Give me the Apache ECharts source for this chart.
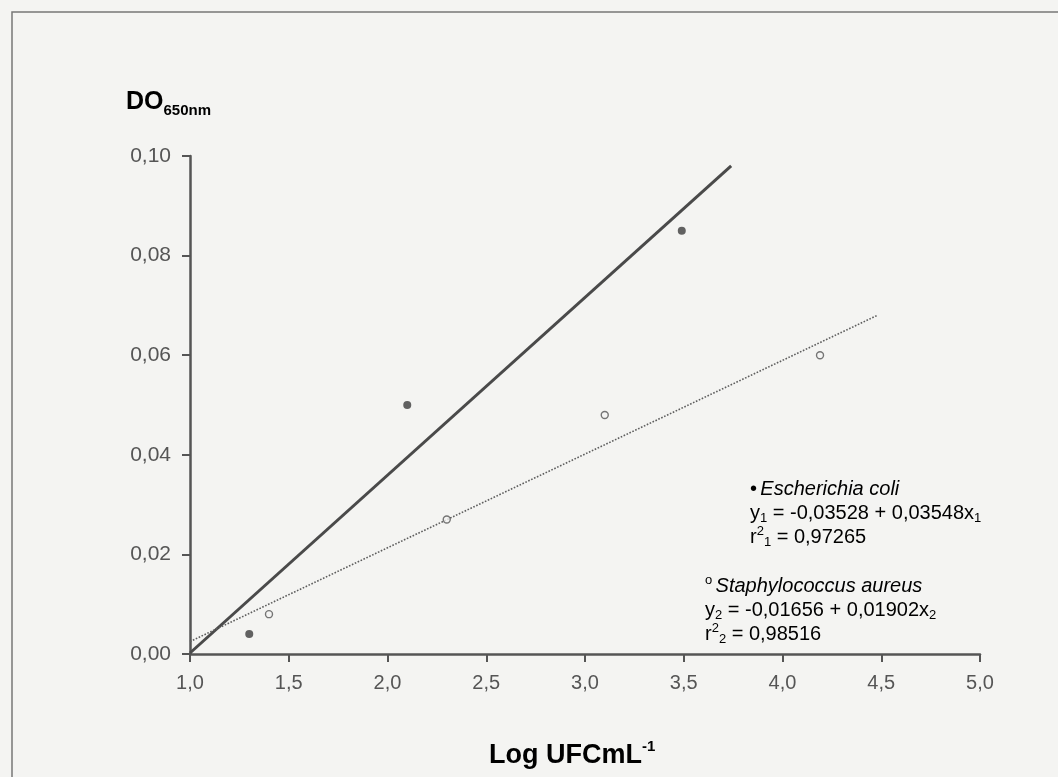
<!DOCTYPE html>
<html>
<head>
<meta charset="utf-8">
<script src="https://cdn.jsdelivr.net/npm/echarts@6/dist/echarts.min.js"></script>
<style>
  html, body { margin: 0; padding: 0; background: #f4f4f2; }
  #main { width: 1058px; height: 777px; }
</style>
</head>
<body>
<div id="main"></div>
<script>
// data
var ecoliPts = [[1.3, 0.004], [2.1, 0.050], [3.49, 0.085]];
var saureusPts = [[1.4, 0.008], [2.3, 0.027], [3.1, 0.048], [4.19, 0.060]];
// regression line end points
var ecoliFit = [[1.0, 0.0002], [3.74, 0.098]];
var saureusFit = [[1.0, 0.0025], [4.48, 0.068]];
var xTicks = [1.0, 5.0, 0.5];   // min, max, step
var yTicks = [0, 0.10, 0.02];

var txt = '#555';
var font = 'Liberation Sans, Arial, sans-serif';
var myChart = echarts.init(document.getElementById('main'));

// rich text styles for sub/superscripts
var rich = {
  t:   { fontSize: 20, fontFamily: font, color: txt, lineHeight: 24 },
  it:  { fontSize: 20, fontFamily: font, color: txt, fontStyle: 'italic', lineHeight: 24 },
  sub: { fontSize: 13, fontFamily: font, color: txt, verticalAlign: 'bottom', lineHeight: 24 },
  sup: { fontSize: 13, fontFamily: font, color: txt, verticalAlign: 'top', lineHeight: 24 }
};

option = {
  backgroundColor: '#f4f4f2',
  animation: false,
  grid: { left: 190, right: 78, top: 156, bottom: 123 },
  xAxis: {
    type: 'value',
    min: xTicks[0], max: xTicks[1], interval: xTicks[2],
    splitLine: { show: false },
    axisLine: { onZero: false, lineStyle: { color: '#555', width: 2.5 } },
    axisTick: { length: 8, lineStyle: { color: '#555', width: 2 } },
    axisLabel: {
      margin: 19, color: txt, fontSize: 20, fontFamily: font,
      formatter: function (v) { return v.toFixed(1).replace('.', ','); }
    }
  },
  yAxis: {
    type: 'value',
    min: yTicks[0], max: yTicks[1], interval: yTicks[2],
    splitLine: { show: false },
    axisLine: { onZero: false, lineStyle: { color: '#555', width: 2.5 } },
    axisTick: { length: 8, lineStyle: { color: '#555', width: 2 } },
    axisLabel: {
      margin: 19, color: txt, fontSize: 21, fontFamily: font,
      formatter: function (v) { return v.toFixed(2).replace('.', ','); }
    }
  },
  series: [
    {
      name: 'E. coli fit', type: 'line', data: ecoliFit, showSymbol: false,
      lineStyle: { color: '#4a4a4a', width: 3 }, z: 2
    },
    {
      name: 'S. aureus fit', type: 'line', data: saureusFit, showSymbol: false,
      lineStyle: { color: '#5e5e5e', width: 1.6, type: 'dotted' }, z: 2
    },
    {
      name: 'Escherichia coli', type: 'scatter', data: ecoliPts,
      symbol: 'circle', symbolSize: 8,
      itemStyle: { color: '#3c3c3c' }, z: 3
    },
    {
      name: 'Staphylococcus aureus', type: 'scatter', data: saureusPts,
      symbol: 'circle', symbolSize: 7,
      itemStyle: { color: '#f4f4f2', borderColor: '#555', borderWidth: 1.4 }, z: 3
    }
  ],
  graphic: [
    { // frame
      type: 'rect', shape: { x: 12, y: 12, width: 1060, height: 800 },
      style: { fill: 'none', stroke: '#777', lineWidth: 1.5 }, silent: true
    },
    { // y axis name
      type: 'text', left: 126, top: 90,
      style: {
        text: '{b|DO}{s|650nm}',
        rich: {
          b: { fontSize: 25, fontWeight: 'bold', fontFamily: font, color: txt, lineHeight: 32 },
          s: { fontSize: 15, fontWeight: 'bold', fontFamily: font, color: txt, verticalAlign: 'bottom', lineHeight: 32 }
        }
      }
    },
    { // x axis name
      type: 'text', left: 489, top: 739,
      style: {
        text: '{b|Log UFCmL}{s|-1}',
        rich: {
          b: { fontSize: 27, fontWeight: 'bold', fontFamily: font, color: txt, lineHeight: 34 },
          s: { fontSize: 15, fontWeight: 'bold', fontFamily: font, color: txt, verticalAlign: 'top', lineHeight: 34 }
        }
      }
    },
    {
      type: 'text', left: 750, top: 479,
      style: {
        text: '{t|•} {it|Escherichia coli}\n' +
              '{t|y}{sub|1}{t| = -0,03528 + 0,03548x}{sub|1}\n' +
              '{t|r}{sup|2}{sub|1}{t| = 0,97265}',
        rich: rich
      }
    },
    {
      type: 'text', left: 705, top: 574,
      style: {
        text: '{sup|o} {it|Staphylococcus aureus}\n' +
              '{t|y}{sub|2}{t| = -0,01656 + 0,01902x}{sub|2}\n' +
              '{t|r}{sup|2}{sub|2}{t| = 0,98516}',
        rich: rich
      }
    }
  ]
};

myChart.setOption(option);
window.onresize = myChart.resize;
</script>
</body>
</html>
